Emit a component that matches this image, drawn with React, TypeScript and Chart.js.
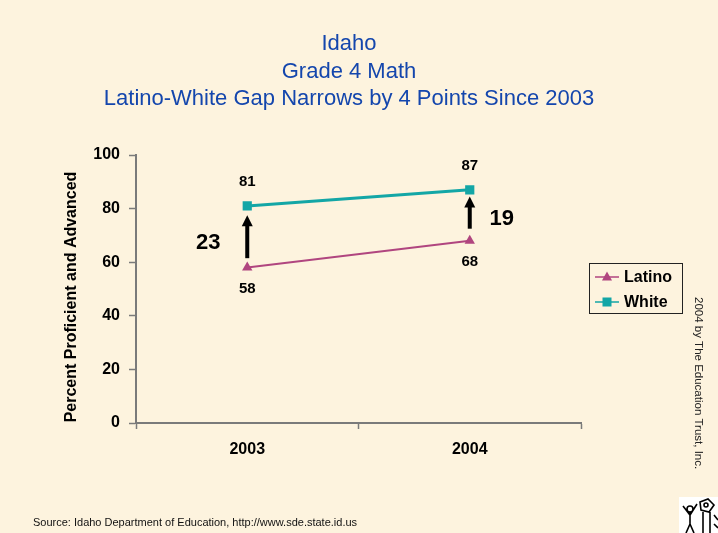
import React, { useEffect, useRef } from "react";
import { Chart, registerables } from "chart.js";

Chart.register(...registerables);

const years = ["2003", "2004"];
const latinoValues = [58, 68];
const whiteValues = [81, 87];
const gapValues = [23, 19];
const arrowFrom = [61.5, 72.5];
const arrowTo = [77.5, 84.5];
const titleLines = ["Idaho", "Grade 4 Math", "Latino-White Gap Narrows by 4 Points Since 2003"];
const yAxisTitle = "Percent Proficient and Advanced";
const sourceText = "Source: Idaho Department of Education, http://www.sde.state.id.us";
const copyrightText = "2004 by The Education Trust, Inc.";

const FONT = "'Liberation Sans', Arial, Helvetica, sans-serif";
const LATINO = "#b0457f";
const WHITE = "#13a6a6";
const AXIS = "#7a7a7a";
const BG = "#fdf3de";
const TITLE = "#1446ad";

const decorPlugin = {
  id: "decor",
  beforeDraw(chart: any) {
    const ctx = chart.ctx;
    ctx.save();
    ctx.fillStyle = BG;
    ctx.fillRect(0, 0, chart.width, chart.height);
    ctx.restore();
  },
  afterDatasetsDraw(chart: any) {
    const ctx = chart.ctx;
    const xs = chart.scales.x;
    const ys = chart.scales.y;
    ctx.save();
    ctx.fillStyle = "#000";
    ctx.font = `bold 15px ${FONT}`;
    ctx.textAlign = "center";
    ctx.textBaseline = "middle";
    const mLat = chart.getDatasetMeta(0);
    const mWhi = chart.getDatasetMeta(1);
    mWhi.data.forEach((p: any, i: number) => {
      ctx.fillText(String(whiteValues[i]), p.x, p.y - 24);
    });
    mLat.data.forEach((p: any, i: number) => {
      ctx.fillText(String(latinoValues[i]), p.x, p.y + 21);
    });
    years.forEach((_, i) => {
      const x = xs.getPixelForValue(i);
      const yb = ys.getPixelForValue(arrowFrom[i]);
      const yt = ys.getPixelForValue(arrowTo[i]);
      const headLen = 11;
      const headHalf = 5.5;
      ctx.fillStyle = "#000";
      ctx.fillRect(x - 2, yt + headLen - 1, 4, yb - (yt + headLen - 1));
      ctx.beginPath();
      ctx.moveTo(x, yt);
      ctx.lineTo(x + headHalf, yt + headLen);
      ctx.lineTo(x - headHalf, yt + headLen);
      ctx.closePath();
      ctx.fill();
      const mid = (yb + yt) / 2 + 6;
      ctx.font = `bold 22px ${FONT}`;
      ctx.fillText(String(gapValues[i]), i === 0 ? x - 39 : x + 32, mid);
    });
    ctx.restore();
  },
  afterDraw(chart: any) {
    const ctx = chart.ctx;
    ctx.save();
    // title
    ctx.fillStyle = TITLE;
    ctx.font = `22px ${FONT}`;
    ctx.textAlign = "center";
    ctx.textBaseline = "middle";
    titleLines.forEach((t, i) => ctx.fillText(t, 349, 44 + i * 27.5));

    // y axis title
    ctx.save();
    ctx.translate(71.5, 297);
    ctx.rotate(-Math.PI / 2);
    ctx.fillStyle = "#000";
    ctx.font = `bold 16px ${FONT}`;
    ctx.textAlign = "center";
    ctx.textBaseline = "middle";
    ctx.fillText(yAxisTitle, 0, 0);
    ctx.restore();

    // legend
    const lx = 589.5, ly = 263.5, lw = 93, lh = 50;
    ctx.strokeStyle = "#222";
    ctx.lineWidth = 1;
    ctx.strokeRect(lx, ly, lw, lh);
    const items = [
      { label: "Latino", color: LATINO, shape: "triangle", y: 277 },
      { label: "White", color: WHITE, shape: "rect", y: 302 },
    ];
    items.forEach((it) => {
      ctx.strokeStyle = it.color;
      ctx.lineWidth = 1.5;
      ctx.beginPath();
      ctx.moveTo(595, it.y);
      ctx.lineTo(619, it.y);
      ctx.stroke();
      ctx.fillStyle = it.color;
      if (it.shape === "rect") {
        ctx.fillRect(607 - 4.5, it.y - 4.5, 9, 9);
      } else {
        ctx.beginPath();
        ctx.moveTo(607, it.y - 5.5);
        ctx.lineTo(612, it.y + 3.5);
        ctx.lineTo(602, it.y + 3.5);
        ctx.closePath();
        ctx.fill();
      }
      ctx.fillStyle = "#000";
      ctx.font = `bold 16px ${FONT}`;
      ctx.textAlign = "left";
      ctx.textBaseline = "middle";
      ctx.fillText(it.label, 624, it.y + 1);
    });

    // source
    ctx.fillStyle = "#111";
    ctx.font = `11px ${FONT}`;
    ctx.textAlign = "left";
    ctx.textBaseline = "middle";
    ctx.fillText(sourceText, 33, 523);

    // copyright (rotated)
    ctx.save();
    ctx.translate(698, 297);
    ctx.rotate(Math.PI / 2);
    ctx.fillStyle = "#222";
    ctx.font = `11.5px ${FONT}`;
    ctx.textAlign = "left";
    ctx.textBaseline = "middle";
    ctx.fillText(copyrightText, 0, 0);
    ctx.restore();

    // logo
    ctx.fillStyle = "#fff";
    ctx.fillRect(679, 497, 39, 36);
    ctx.strokeStyle = "#000";
    ctx.lineWidth = 1.6;
    ctx.beginPath();
    ctx.arc(690, 509, 3, 0, Math.PI * 2);
    ctx.moveTo(690, 512); ctx.lineTo(690, 524);
    ctx.moveTo(683, 506); ctx.lineTo(690, 515); ctx.lineTo(697, 504);
    ctx.moveTo(690, 524); ctx.lineTo(686, 533);
    ctx.moveTo(690, 524); ctx.lineTo(694, 533);
    ctx.stroke();
    ctx.beginPath();
    ctx.moveTo(700, 502); ctx.lineTo(708, 499); ctx.lineTo(714, 505); ctx.lineTo(709, 512); ctx.lineTo(701, 510); ctx.closePath();
    ctx.moveTo(708, 505); ctx.arc(706, 505, 2, 0, Math.PI * 2);
    ctx.moveTo(703, 512); ctx.lineTo(703, 533);
    ctx.moveTo(710, 512); ctx.lineTo(710, 533);
    ctx.moveTo(714, 515); ctx.lineTo(718, 520);
    ctx.moveTo(714, 524); ctx.lineTo(718, 528);
    ctx.stroke();
    ctx.restore();
  },
};

export default function App() {
  const ref = useRef<HTMLCanvasElement | null>(null);
  useEffect(() => {
    if (!ref.current) return;
    const chart = new Chart(ref.current, {
      type: "line",
      data: {
        labels: years,
        datasets: [
          {
            label: "Latino",
            data: latinoValues,
            borderColor: LATINO,
            backgroundColor: LATINO,
            borderWidth: 2,
            pointStyle: "triangle",
            pointRadius: 6,
            pointBorderWidth: 0,
            pointBackgroundColor: LATINO,
            tension: 0,
          },
          {
            label: "White",
            data: whiteValues,
            borderColor: WHITE,
            backgroundColor: WHITE,
            borderWidth: 3,
            pointStyle: "rect",
            pointRadius: 6.5,
            pointBorderWidth: 0,
            pointBackgroundColor: WHITE,
            tension: 0,
          },
        ],
      },
      options: {
        responsive: false,
        animation: false,
        layout: { padding: { top: 155, right: 137, bottom: 50, left: 0 } },
        plugins: {
          legend: { display: false },
          title: { display: false },
          tooltip: { enabled: false },
        },
        scales: {
          x: {
            type: "category",
            offset: true,
            afterFit: (s: any) => {
              s.height = 60;
            },
            grid: {
              offset: true,
              drawOnChartArea: false,
              color: AXIS,
              tickColor: AXIS,
              tickLength: 6,
              tickWidth: 1.5,
            },
            border: { color: AXIS, width: 2 },
            ticks: {
              color: "#000",
              padding: 11,
              font: { family: FONT, size: 16, weight: "bold" },
            },
          },
          y: {
            min: 0,
            max: 100,
            afterFit: (s: any) => {
              s.width = 136;
            },
            grid: {
              drawOnChartArea: false,
              color: AXIS,
              tickColor: AXIS,
              tickLength: 7,
              tickWidth: 1.5,
            },
            border: { color: AXIS, width: 2 },
            ticks: {
              stepSize: 20,
              color: "#000",
              padding: 9,
              font: { family: FONT, size: 16, weight: "bold" },
            },
          },
        },
      },
      plugins: [decorPlugin],
    });
    return () => chart.destroy();
  }, []);
  return (
    <div style={{ position: "absolute", left: 0, top: 0, width: 718, height: 533 }}>
      <canvas ref={ref} width={718} height={533} style={{ display: "block" }} />
    </div>
  );
}
